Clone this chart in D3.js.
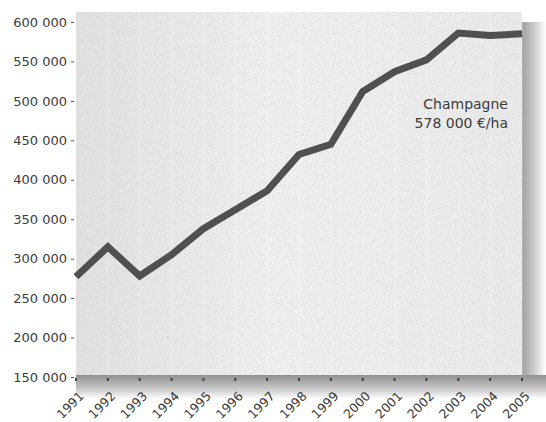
<!DOCTYPE html>
<html><head><meta charset="utf-8">
<script src="https://cdn.jsdelivr.net/npm/d3@7"></script>
<style>
html,body{margin:0;padding:0;background:#fff;}
svg text{font-family:"DejaVu Sans","Noto Sans",sans-serif;fill:#3c3c3c;}
</style></head>
<body>
<svg id="c" width="546" height="422"></svg>
<script>
const years = ["1991","1992","1993","1994","1995","1996","1997","1998","1999","2000","2001","2002","2003","2004","2005"];
const prices = [277000,315000,278000,305000,338000,362000,386000,432000,445000,512000,537000,552000,586000,583000,585000];
const yTicks = [150000,200000,250000,300000,350000,400000,450000,500000,550000,600000];
const annotationLines = ["Champagne","578 000 €/ha"];

(function(){
const svg = d3.select("#c");
const W = 546, H = 422;
const mLeft = 76, mRight = 522, mTop = 22, mBottom = 377;

const x = d3.scalePoint().domain(years).range([mLeft, mRight]);
const y = d3.scaleLinear().domain([150000, 600000]).range([mBottom, mTop]);

const defs = svg.append("defs");
const f = defs.append("filter").attr("id","noise").attr("x",0).attr("y",0).attr("width","100%").attr("height","100%");
f.append("feTurbulence").attr("type","fractalNoise").attr("baseFrequency",0.9).attr("numOctaves",2).attr("seed",3).attr("result","t");
f.append("feColorMatrix").attr("in","t").attr("type","matrix")
 .attr("values","0 0 0 0 0.5  0 0 0 0 0.5  0 0 0 0 0.5  0 0 0 -1.8 1.1").attr("result","n");
f.append("feComposite").attr("in","n").attr("in2","SourceGraphic").attr("operator","in");

const gBg = defs.append("linearGradient").attr("id","bgGrad").attr("x1",0).attr("x2",1).attr("y1",0).attr("y2",0);
gBg.append("stop").attr("offset",0).attr("stop-color","#e2e2e2");
gBg.append("stop").attr("offset",0.45).attr("stop-color","#f2f2f2");
gBg.append("stop").attr("offset",1).attr("stop-color","#ececec");

const gBot = defs.append("linearGradient").attr("id","botGrad").attr("x1",0).attr("x2",0).attr("y1",0).attr("y2",1);
gBot.append("stop").attr("offset",0).attr("stop-color","#909090");
gBot.append("stop").attr("offset",0.5).attr("stop-color","#c0c0c0");
gBot.append("stop").attr("offset",1).attr("stop-color","#ffffff");

const gRight = defs.append("linearGradient").attr("id","rightGrad").attr("x1",0).attr("x2",1).attr("y1",0).attr("y2",0);
gRight.append("stop").attr("offset",0).attr("stop-color","#a0a0a0");
gRight.append("stop").attr("offset",0.5).attr("stop-color","#cbcbcb");
gRight.append("stop").attr("offset",1).attr("stop-color","#ffffff");

// shadow bands
svg.append("rect").attr("x", mRight).attr("y", 22).attr("width", W - mRight).attr("height", mBottom + 20 - 22).attr("fill","url(#rightGrad)");
svg.append("rect").attr("x", mLeft).attr("y", mBottom - 2).attr("width", W - mLeft).attr("height", 24).attr("fill","url(#botGrad)");

// plot background
svg.append("rect").attr("x", mLeft).attr("y", 12).attr("width", mRight - mLeft).attr("height", mBottom - 2 - 12).attr("fill","url(#bgGrad)");
svg.append("rect").attr("x", mLeft).attr("y", 12).attr("width", mRight - mLeft).attr("height", mBottom - 2 - 12).attr("fill","#888").attr("filter","url(#noise)").attr("opacity",0.4);

// faint grid
const grid = svg.append("g");
grid.selectAll("line").data(years).join("line")
  .attr("x1", d => x(d)).attr("x2", d => x(d)).attr("y1", 12).attr("y2", mBottom - 2)
  .attr("stroke","#fafafa").attr("stroke-width",1).attr("opacity",0.35);

// x tick dots
svg.append("g").selectAll("rect").data(years).join("rect")
  .attr("x", d => x(d) - 1).attr("y", mBottom + 1).attr("width", 2).attr("height", 3).attr("fill","#444");

// y axis labels
const yAxis = d3.axisLeft(y).tickValues(yTicks)
  .tickFormat(d => d3.format(",")(d).replace(/,/g, " "))
  .tickSize(3).tickPadding(4);
const ga = svg.append("g").attr("transform", `translate(${mLeft - 2},0)`).call(yAxis);
ga.select(".domain").remove();
ga.selectAll(".tick line").attr("stroke","#555");
ga.selectAll("text").attr("font-size", 13).style("fill","#3c3c3c");

// x axis labels
const xAxis = d3.axisBottom(x).tickSize(0).tickPadding(0);
const gx = svg.append("g").attr("transform", `translate(0,${mBottom + 20})`).call(xAxis);
gx.select(".domain").remove();
gx.selectAll("text")
  .attr("font-size", 12.5)
  .attr("text-anchor","end")
  .attr("dy", 0).attr("y", 0)
  .attr("transform","translate(8,0) rotate(-45)");

// line
const line = d3.line().x((d,i) => x(years[i])).y(d => y(d));
svg.append("path").datum(prices)
  .attr("d", line).attr("fill","none")
  .attr("stroke","#505050").attr("stroke-width",7)
  .attr("stroke-linejoin","miter").attr("stroke-linecap","butt");

// annotation
const ann = svg.append("text").attr("text-anchor","end").attr("font-size",14);
ann.selectAll("tspan").data(annotationLines).join("tspan")
  .attr("x", 508).attr("y", (d,i) => 109 + i * 19).text(d => d);
})();
</script>
</body></html>
